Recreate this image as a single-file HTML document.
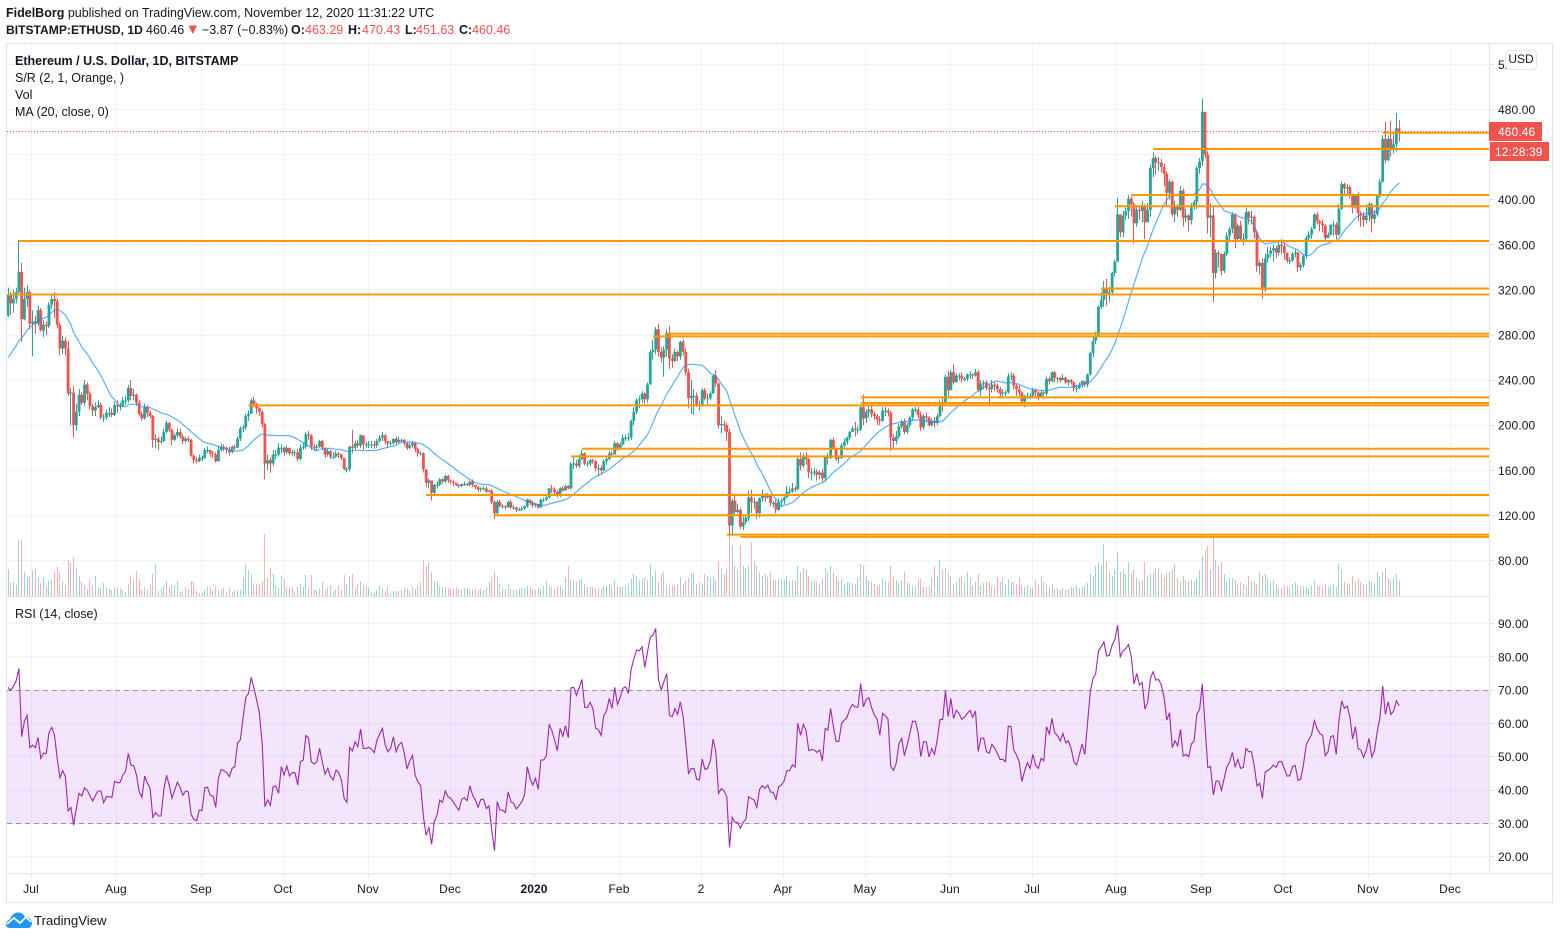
<!DOCTYPE html>
<html lang="en">
<head>
<meta charset="utf-8">
<title>ETHUSD chart</title>
<style>
html,body{margin:0;padding:0;background:#fff;width:1560px;height:939px;overflow:hidden}
svg{position:absolute;left:0;top:0;display:block}
text{font-family:"Liberation Sans",Arial,sans-serif;fill:#131722}
.h{font-size:12.5px}
.b{font-weight:700}
.s{font-size:12.1px}
.t{font-size:12px;letter-spacing:.1px}
</style>
</head>
<body>
<svg id="c" width="1560" height="939" viewBox="0 0 1560 939" xmlns="http://www.w3.org/2000/svg">
<rect width="1560" height="939" fill="#fff"/>
<text class="h" x="6" y="17"><tspan class="b">FidelBorg</tspan> published on TradingView.com, November 12, 2020 11:31:22 UTC</text>
<text class="h" y="34"><tspan class="b s" x="6">BITSTAMP:ETHUSD, 1D</tspan><tspan x="146">460.46</tspan><tspan x="202">−3.87 (−0.83%)</tspan><tspan class="b" x="291">O:</tspan><tspan x="305" style="fill:#ef5350">463.29</tspan><tspan class="b" x="348">H:</tspan><tspan x="362" style="fill:#ef5350">470.43</tspan><tspan class="b" x="405">L:</tspan><tspan x="416" style="fill:#ef5350">451.63</tspan><tspan class="b" x="459">C:</tspan><tspan x="472" style="fill:#ef5350">460.46</tspan></text>
<polygon points="188.5,25.5 197,25.500 192.700,34" fill="#ef5350"/>
<g id="grid"></g>
<rect x="7" y="690.5" width="1482" height="133" fill="#8700e1" fill-opacity="0.1"/>
<g id="vols"></g>
<g id="candles"></g>
<g id="ma"></g>
<g id="sr"></g>
<line x1="7" x2="1489" y1="131.5" y2="131.5" stroke="#ef5350" stroke-width="1" stroke-dasharray="1 2"/>
<line x1="7" x2="1489" y1="690.5" y2="690.5" stroke="#a08fa8" stroke-width="1" stroke-dasharray="5 4"/>
<line x1="7" x2="1489" y1="823.5" y2="823.5" stroke="#a08fa8" stroke-width="1" stroke-dasharray="5 4"/>
<g id="rsi"></g>
<g fill="none" stroke="#e0e3eb" stroke-width="1">
<rect x="6.5" y="43.5" width="1546" height="859"/>
<line x1="1489.5" x2="1489.5" y1="44" y2="873"/>
<line x1="7" x2="1489" y1="596.5" y2="596.5"/>
<line x1="7" x2="1553" y1="873.5" y2="873.5"/>
</g>
<g id="axes"></g>
<text class="h b" x="15" y="65">Ethereum / U.S. Dollar, 1D, BITSTAMP</text>
<text class="h" x="15" y="82">S/R (2, 1, Orange, )</text>
<text class="h" x="15" y="99">Vol</text>
<text class="h" x="15" y="116">MA (20, close, 0)</text>
<text class="h" x="15" y="618">RSI (14, close)</text>
<g>
<rect x="1489" y="122" width="53" height="19" fill="#ef5350"/>
<text class="t" x="1498" y="136" style="fill:#fff">460.46</text>
</g>
<g>
<rect x="1490" y="142" width="59" height="19" fill="#ef5350"/>
<text class="t" x="1495" y="156" style="fill:#fff">12:28:39</text>
</g>
<g>
<rect x="1506" y="50.5" width="30.5" height="19" rx="3" fill="#fff" stroke="#e0e3eb"/>
<text x="1521" y="63" text-anchor="middle" style="font-size:12px">USD</text>
</g>
<g>
<path d="M6 925c0-3 2-5 4-5.500C11 915 15 912 19 912.500c3 .5 5 2 6 4.500 4-.5 7 2.500 7 6 0 3-2 5-4 5H10c-2.500 0-4-1.500-4-3z" fill="#2196f3"/>
<path d="M7 924l7-6 6 5 6-6 5 5" fill="none" stroke="#fff" stroke-width="1.800"/>
<text x="34" y="925" style="font-size:13.2px">TradingView</text>
</g>
<script>
const priorCloses=[246,235,247,247,250,245,240,248,245,260,255,263,268,268,272,261,268,272,295];
const firstOpen=297;
const closes=[
316,308,312,318,336,294,312,318,290,292,
290,302,284,289,288,307,312,310,289,268,
275,268,228,229,200,212,227,220,236,228,
217,213,216,218,207,207,211,211,209,218,
217,217,222,222,233,226,227,220,210,206,
216,211,208,187,188,185,186,194,202,196,
187,191,194,190,186,188,187,173,169,168,
171,171,178,178,175,174,168,178,181,180,
178,176,181,180,188,197,198,208,210,222,
219,215,212,201,166,169,166,174,174,180,
180,176,180,175,176,176,170,180,181,192,
191,181,180,181,186,180,174,177,172,172,
175,174,171,161,161,181,180,184,182,191,
183,183,183,183,182,186,189,191,186,184,
184,188,185,187,187,184,180,182,184,179,
175,175,161,149,151,140,147,147,152,150,
155,151,150,149,147,146,148,148,147,150,
147,145,143,144,144,141,142,132,122,132,
128,128,127,132,127,127,125,125,126,128,
134,131,129,130,127,134,134,136,144,143,
141,138,144,142,146,144,166,166,164,170,
175,166,166,169,168,162,162,160,168,170,
175,174,184,180,183,189,189,189,204,212,
222,223,228,223,236,265,267,285,265,260,
267,282,259,257,265,261,274,265,247,224,
226,226,218,218,231,224,224,228,244,237,
200,201,200,194,111,133,123,125,110,114,
118,136,132,132,122,135,139,136,139,131,
131,125,132,133,136,141,141,144,143,170,
164,173,170,158,158,159,156,158,153,172,
171,187,180,170,171,182,185,189,194,197,
196,196,216,206,212,214,210,208,205,204,
213,213,211,189,186,190,199,203,194,200,
207,214,214,209,198,208,207,200,204,202,
208,220,219,243,231,247,238,244,244,241,
241,245,245,244,247,231,237,238,233,232,
236,235,232,228,229,229,243,244,235,232,
229,221,226,226,226,231,229,225,229,228,
241,239,247,242,242,240,242,238,240,238,
233,233,236,239,236,245,264,275,279,305,
311,321,317,318,335,345,387,371,386,390,
401,396,379,391,390,395,380,391,428,437,
433,433,429,423,406,416,387,395,391,408,
384,386,382,395,398,428,434,478,440,384,
386,335,353,352,337,352,368,374,387,365,
377,365,365,389,384,385,371,341,344,320,
348,352,355,357,353,360,359,353,346,346,
352,353,340,342,350,366,369,374,387,381,
379,377,366,369,378,378,369,392,414,410,
411,405,393,404,388,386,382,386,396,383,
387,403,416,454,435,454,444,449,463.29,460.46];
const highs=[
322,318,320,322,364,344,322,324,320,302,
297,306,304,293,292,309,316,318,312,291,
279,278,275,233,235,219,232,229,240,238,
230,219,220,222,220,210,214,216,215,221,
222,220,225,226,236,240,232,228,222,212,
219,218,213,209,192,190,190,197,204,203,
197,193,197,197,192,190,190,188,174,172,
174,173,180,181,178,177,176,182,184,183,
181,181,182,183,190,199,200,210,213,224,
225,220,216,213,202,174,171,178,178,184,
183,181,182,180,178,178,179,183,184,194,
195,192,183,183,187,187,180,179,178,176,
177,176,175,171,163,182,196,186,187,192,
191,185,186,186,186,188,191,194,192,186,
186,188,190,190,188,188,185,184,186,185,
180,177,176,161,153,151,148,150,153,153,
156,156,152,151,148,148,148,150,149,151,
152,147,146,145,146,146,143,143,133,134,
134,130,129,133,134,129,128,127,128,129,
135,134,133,131,130,135,136,137,144,147,
145,142,145,146,147,147,167,172,169,174,
178,176,168,170,170,169,165,164,169,172,
177,177,186,185,185,192,192,193,205,216,
224,226,230,229,238,267,276,287,290,269,
270,285,288,263,268,266,275,276,268,250,
240,232,229,222,233,233,228,230,245,249,
238,208,204,202,197,135,138,130,127,119,
120,142,143,136,133,136,143,140,140,139,
133,134,135,135,137,146,145,149,146,172,
176,175,176,171,162,162,161,160,161,172,
175,188,189,180,173,184,188,190,195,199,
203,199,218,227,214,218,218,212,210,208,
216,216,215,213,192,195,201,205,206,202,
208,215,216,216,212,210,211,208,206,207,
210,222,225,245,248,249,254,246,246,247,
243,246,248,246,250,249,240,240,240,236,
240,238,237,234,232,231,246,247,246,237,
235,230,227,229,228,233,232,230,231,230,
243,243,248,248,243,243,245,243,241,241,
239,236,238,240,238,246,265,278,283,306,
318,328,330,323,336,347,402,375,390,393,
404,403,398,395,394,399,396,397,431,442,
439,438,436,432,425,418,417,399,396,412,
410,392,387,397,400,430,437,490,477,443,
397,394,356,355,352,354,371,376,389,388,
379,381,370,393,390,390,386,373,346,348,
352,358,358,360,359,363,365,362,353,349,
354,356,354,344,352,368,372,376,388,389,
382,382,378,371,378,381,380,396,416,415,
414,413,404,404,407,390,389,396,398,397,
391,405,418,457,469,457,470,459,477,470.43];
const lows=[
296,298,300,308,316,274,293,305,285,261,
281,288,283,278,280,286,303,295,286,262,
263,262,226,200,189,195,208,218,217,222,
214,208,208,215,205,203,205,207,207,208,
211,213,216,218,220,222,222,217,208,204,
205,207,206,180,180,178,183,185,193,194,
182,186,189,188,183,184,185,172,166,166,
167,168,170,175,172,171,167,168,177,177,
175,173,175,178,180,186,194,196,204,210,
216,210,208,198,152,160,158,164,170,172,
175,173,174,173,173,172,168,169,178,179,
187,178,177,178,180,178,171,172,170,170,
171,171,169,160,158,159,175,178,180,180,
178,180,180,180,179,180,185,186,183,180,
182,183,183,184,185,182,178,179,180,176,
172,173,158,145,144,133,137,144,146,148,
149,149,148,146,146,144,145,146,146,146,
145,143,141,141,142,140,141,130,117,120,
127,126,125,127,126,125,123,124,124,125,
127,129,127,127,126,127,132,133,135,140,
139,136,136,141,142,143,143,161,162,162,
169,164,163,164,166,159,155,156,159,165,
169,172,174,177,178,182,186,186,187,200,
210,215,220,219,220,236,258,263,261,256,
243,261,250,251,256,257,258,262,244,215,
210,209,216,213,216,222,218,222,228,234,
197,193,195,186,101,103,120,122,108,107,
112,115,122,126,117,118,132,132,135,128,
127,122,124,128,130,135,137,140,141,143,
160,162,165,153,151,155,151,152,150,150,
165,170,178,168,166,170,180,183,187,194,
190,192,195,200,202,207,207,205,200,200,
203,208,208,177,180,183,188,197,192,192,
198,204,211,206,195,196,203,199,199,198,
200,207,212,218,226,231,236,238,240,238,
239,239,241,241,243,230,226,232,231,217,
229,230,229,225,225,226,228,240,232,226,
226,219,216,223,223,224,225,222,224,226,
226,236,238,238,238,238,240,237,235,236,
230,229,232,233,234,234,244,260,272,278,
303,305,306,309,315,332,361,367,367,382,
383,385,361,376,382,380,365,380,385,420,
422,425,424,412,395,400,385,380,385,390,
376,380,372,378,391,392,423,430,437,370,
367,309,330,340,333,335,350,362,370,357,
363,364,360,362,378,378,366,336,334,312,
318,344,349,345,348,351,352,347,344,343,
345,349,336,337,340,348,364,365,374,378,
372,371,364,366,368,368,365,368,391,403,
404,401,388,392,381,376,376,379,381,371,
379,385,402,415,432,434,438,441,443,451.63];
const volumes=[
27,13,14,11,56,57,24,19,20,25,
27,18,13,18,9,15,16,24,29,24,
15,11,36,33,39,28,20,14,11,7,
16,11,20,8,8,13,9,8,6,9,
8,8,6,4,12,21,15,25,16,6,
9,6,12,22,32,5,8,10,15,9,
11,11,15,4,5,9,7,15,14,5,
3,3,6,9,8,6,9,6,7,8,
4,8,4,5,6,6,18,32,26,21,
13,12,12,15,62,18,28,22,10,8,
20,17,9,9,9,5,9,12,9,21,
8,21,6,6,7,14,6,8,11,5,
7,11,6,21,12,20,22,8,12,15,
11,10,8,3,3,6,10,7,5,9,
3,5,5,5,6,8,7,5,9,7,
10,14,36,30,34,24,15,14,10,9,
9,8,7,7,9,7,6,8,8,7,
6,7,6,7,6,8,14,20,25,20,
12,8,7,11,7,6,6,7,8,8,
10,9,7,6,8,7,10,15,11,9,
7,10,10,7,18,30,16,16,14,16,
17,12,9,9,9,8,7,7,10,10,
12,9,16,10,9,9,10,13,17,22,
20,16,17,18,16,32,20,26,14,22,
24,13,11,10,11,12,19,12,16,18,
22,24,12,14,12,22,20,18,20,16,
34,28,22,27,62,50,30,26,50,30,
28,30,54,35,30,24,20,22,19,24,
17,16,18,17,16,20,15,16,15,30,
24,28,26,20,14,15,14,12,17,28,
24,30,24,20,15,17,12,14,14,13,
12,18,32,30,20,16,14,12,10,12,
17,15,14,30,20,16,13,15,24,14,
12,10,10,17,17,9,9,10,18,30,
20,36,26,28,23,20,12,14,18,20,
14,24,18,10,14,22,10,13,14,14,
10,9,18,14,18,12,17,14,14,12,
18,10,9,10,8,8,16,12,20,14,
11,9,12,7,8,6,8,6,7,9,
8,10,8,9,10,13,22,20,30,34,
30,52,34,24,20,26,44,24,26,22,
34,22,26,18,16,16,34,20,22,24,
28,28,22,18,24,24,26,32,18,14,
20,16,14,16,15,18,26,40,46,50,
26,58,36,30,34,22,14,18,18,16,
12,14,12,10,20,15,15,12,24,20,
22,17,14,16,12,8,8,10,10,8,
12,14,11,10,10,9,8,10,16,10,
10,9,12,9,10,12,9,33,26,14,
13,12,20,14,17,14,12,12,16,14,
12,24,20,24,28,18,16,18,22,15];
const rsiValues=[
70.8,69.9,71.2,72.8,76.5,56,60.7,62.4,52.7,53.5,
52.7,55.8,49.5,51,51,57.2,58.8,56.5,49.5,43.7,
45.8,44,33.7,34.7,29.5,34.4,39,38.2,40.7,39.9,
38.2,36.7,38.4,39.7,39.7,36.2,38,38,37.8,42.6,
42.2,42.2,44.5,45.5,51,47.5,47.3,44.5,39.5,37.8,
44.2,42,40.5,31.8,33.2,32.2,32.2,40,44.4,41.5,
37.5,40,42.3,40.7,38.4,39.7,39.4,32.7,31.2,30.8,
34,33.8,40.7,40.8,38.4,38.2,34.8,43.5,46.2,45.8,
45.2,44,46.5,47,54.2,55,61.5,67.8,69,73.8,
70.5,67,63,54,35,37,35.4,41,41.2,39,
47,44.5,47.2,44.2,45.2,45.2,41.5,48.5,49,56.4,
55.5,48.4,47.8,48.5,52.5,48.5,44.7,46.5,44,43,
46,45.2,43,37.4,36.3,52.8,51.7,54.5,53,58.3,
52.5,52.5,52.8,52.3,51.2,55,56.8,58.5,53.5,51.5,
52.5,56,51.5,53.5,54.3,51,46.3,48.8,50.4,44.4,
42.5,41.3,32,26.4,28.7,23.7,30.5,32.5,37,36.3,
39.7,38,37.5,36.3,35,33.9,37.2,37.7,36.8,41.3,
38.5,37,34.8,37.2,37.2,34.4,35.3,28,21.8,36.5,
34,33.9,33.2,39.4,36.5,36,34.3,35.3,36.5,38.5,
47,43.5,41.5,43.5,40.2,49,49,50.3,59.7,57.8,
55,51.8,58.5,56.2,59.3,55.7,70.7,70.8,68.4,70.8,
73.2,64.8,64.7,66.3,64.5,58.5,58.2,56.4,62.3,63.7,
67.5,64.5,70.8,65.7,67.8,70.5,71,69,76.2,79.5,
82,81.8,83,76.8,81.5,86,86.5,88.5,73.2,70,
72.5,75,62.5,62,64.4,62.7,66.5,62.2,54,45,
46.4,46.5,43.2,43,49.3,46.2,46.5,48.8,55.3,51.5,
39,40.4,39.8,38,22.8,31.8,30.3,30.2,28.5,30.3,
31.2,38,37.4,37,34.8,40.2,41.3,40.5,41.5,39.4,
39.3,37.2,41,41.5,42.8,45.8,45.8,47.6,46.9,60,
56.4,59.7,58,51.8,52.2,52,51.3,52,48.7,58.5,
58,64.5,59,54.6,54.6,60,61,61.8,64.3,65.7,
64.9,64.9,72,65,67.2,67.7,64.7,62.5,61.3,56.5,
63,62.3,61.3,47,45.9,48,54,55.5,50.3,53.5,
57,60.7,60.6,57.3,50,54.5,54.4,49.9,52.4,50.7,
55,61.2,61.2,69.7,62,67.5,61.5,63.9,63,61.2,
61.9,63,63.9,61.8,63.7,51.6,55.5,55.6,51.6,51,
53.7,52.6,51,49.2,49.2,48.5,59.2,59.1,52,50.5,
48.5,42.6,45.8,48.2,46.5,50.7,47.5,46.5,49.5,48.8,
59,56.8,61.5,57.2,56.3,54.7,57,54.2,54.8,52.5,
48.5,47.5,50.5,53.8,50.7,60,69.5,73.5,75,81.8,
83,84.5,80.2,80.5,83.5,85.2,89.5,80,81.8,82.5,
83.7,80,71.8,75,71.5,72.3,64.3,66.3,73.5,75.5,
73,73.2,71.5,67.8,61,63.2,52.7,54.8,53.2,58.2,
50.2,50.7,50,53.8,54.7,62.8,64.2,71.8,59,46.7,
47.1,38.5,42.6,42.7,39.9,43.5,47,48.5,51.3,47,
49.2,46.5,46.8,52.5,51.5,51.5,47.4,41.2,42,37.5,
45.4,45.9,46.5,47.5,46.8,48.5,48.5,46.5,44.2,44.3,
47,47.4,42.9,43.2,47.5,53.5,55.2,56.7,60.8,58.5,
57,56.4,50.3,51.5,56,56.3,50.7,61,66.8,64.5,
65.2,62,55.3,59,52.5,52,49.8,52,55.5,49.9,
51.8,57.5,61.8,71.2,62.7,66.5,62.7,63.7,66.8,65.3];
const srLevels=[363.4,315.9,321.2,278.8,281.2,224.7,219.7,217.6,179.1,172.3,138.1,120.1,103,101,404.2,394.2,445,459.4];
const srStartBars=[4,0,400,236,241,312,312,88,210,206,153,178,263,268,411,405,419,503];
const priceTicks=[520,480,400,360,320,280,240,200,160,120,80];
const priceGrid=[520,480,440,400,360,320,280,240,200,160,120,80];
const rsiTicks=[90,80,70,60,50,40,30,20];
const timeTickBars=[9,40,71,101,132,162,193,224,254,284,314,345,375,406,437,467,498,528];
const timeTickLabels=['Jul','Aug','Sep','Oct','Nov','Dec','2020','Feb','2','Apr','May','Jun','Jul','Aug','Sep','Oct','Nov','Dec'];
const boldTimeLabel='2020';
const maWindow=20;

const NS='http://www.w3.org/2000/svg';
const barX=i=>8+i*2.733;
const priceY=p=>560.5-(p-80)*1.1275;
const rsiY=v=>623.5+(90-v)*3.33;
const volY=v=>596-v;
const snap=v=>Math.round(v-0.5)+0.5;
const openOf=i=>i===0?firstOpen:closes[i-1];
const make=(tag,parent,attrs)=>{const e=document.createElementNS(NS,tag);for(const k in attrs)e.setAttribute(k,attrs[k]);parent.appendChild(e);return e;};
const UP='#26a69a',DOWN='#ef5350';
const gGrid=document.getElementById('grid'),gVols=document.getElementById('vols'),gCandles=document.getElementById('candles'),gMa=document.getElementById('ma'),gSr=document.getElementById('sr'),gRsi=document.getElementById('rsi'),gAxes=document.getElementById('axes');

timeTickBars.forEach((b,i)=>{
  const x=snap(barX(b)-0.6);
  const v=make('line',gGrid,{x1:x,x2:x,y1:44,y2:873,stroke:'#f0f3fa'});
  
  
  const tick=make('line',gAxes,{x1:x,x2:x,y1:873,y2:877,stroke:'#e0e3eb'});
  
  
  const t=make('text',gAxes,{x:x-0.5,y:893,'text-anchor':'middle',class:'t'});
  
  
  if(timeTickLabels[i]===boldTimeLabel)t.setAttribute('font-weight','700');
  t.textContent=timeTickLabels[i];
});
priceGrid.forEach(p=>{
  const y=snap(priceY(p));
  const h=make('line',gGrid,{x1:7,x2:1489,y1:y,y2:y,stroke:'#f0f3fa'});
  
  
});
priceTicks.forEach(p=>{
  const y=priceY(p);
  const tick=make('line',gAxes,{x1:1490,x2:1494,y1:snap(y),y2:snap(y),stroke:'#e0e3eb'});
  
  
  const t=make('text',gAxes,{x:1498,y:y+4.5,class:'t'});
  
  
  t.textContent=p.toFixed(2);
});
rsiTicks.forEach(v=>{
  const y=rsiY(v);
  const h=make('line',gGrid,{x1:7,x2:1489,y1:snap(y),y2:snap(y),stroke:'#f0f3fa'});
  
  
  const tick=make('line',gAxes,{x1:1490,x2:1494,y1:snap(y),y2:snap(y),stroke:'#e0e3eb'});
  
  
  const t=make('text',gAxes,{x:1498,y:y+4.5,class:'t'});
  
  
  t.textContent=v.toFixed(2);
});
closes.forEach((c,i)=>{
  const o=openOf(i),col=c>=o?UP:DOWN,x=barX(i);
  const vol=make('rect',gVols,{x:snap(x)-0.5,width:1,y:volY(volumes[i]),height:596-volY(volumes[i]),fill:col,'fill-opacity':0.45});
  
  
  const wick=make('line',gCandles,{x1:snap(x),x2:snap(x),y1:priceY(highs[i]),y2:priceY(lows[i]),stroke:col});
  
  
  const top=priceY(Math.max(o,c)),bot=priceY(Math.min(o,c));
  const body=make('rect',gCandles,{x:x-1.4,width:2.8,y:top,height:Math.max(1,bot-top),fill:col});
  
  
});
const allCloses=priorCloses.concat(closes);
const maPts=closes.map((c,i)=>{
  const w=allCloses.slice(i+priorCloses.length-maWindow+1,i+priorCloses.length+1);
  return barX(i).toFixed(1)+','+priceY(w.reduce((a,b)=>a+b,0)/w.length).toFixed(1);
}).join(' ');
const maLine=make('polyline',gMa,{points:maPts,fill:'none',stroke:'#2196f3','stroke-width':1.2,'stroke-opacity':0.75});


srLevels.forEach((p,i)=>{
  const y=priceY(p);
  const l=make('line',gSr,{x1:barX(srStartBars[i]),x2:1489,y1:y,y2:y,stroke:'#ff9800','stroke-width':2});
  
  
});
const rsiLine=make('polyline',gRsi,{points:rsiValues.map((v,i)=>barX(i).toFixed(1)+','+rsiY(v).toFixed(1)).join(' '),fill:'none',stroke:'#9c27b0','stroke-width':1.1});


</script>
</svg>
</body>
</html>
